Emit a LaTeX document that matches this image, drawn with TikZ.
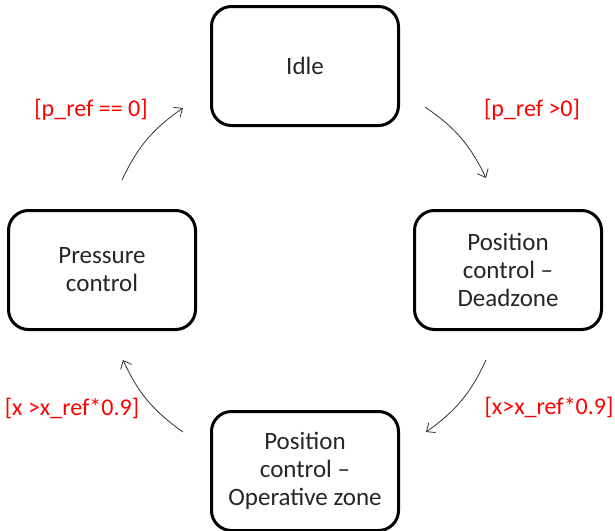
\documentclass[tikz,border=0pt]{standalone}
\usepackage{fontspec}
\setmainfont{Carlito}
\usetikzlibrary{arrows.meta}
\tikzset{
  statebox/.style = {draw,line width=3pt,rounded corners=20pt,minimum width=187pt,
                     minimum height=119pt,align=center,text=black!85,
                     font=\fontsize{25}{28}\selectfont},
  guard/.style    = {text=red,font=\fontsize{24}{27}\selectfont},
  transarr/.style = {-{Straight Barb[length=7pt,width=12pt]},black!80,line width=0.8pt,bend left=15}
}

\begin{document}
\begin{tikzpicture}[x=1pt,y=-1pt]
  \useasboundingbox (0,0) rectangle (615,530);
  % states
  \node[statebox] (idle) at (305,66) {Idle};
  \node[statebox] (dead) at (508,270) {Position\\control --\\Deadzone};
  \node[statebox] (oper) at (305,471) {Position\\control --\\Operative zone};
  \node[statebox] (pres) at (102,270) {Pressure\\control};
  % arrow ends
  \coordinate (idleout) at (425,107);
  \coordinate (deadin)  at (486,178);
  \coordinate (deadout) at (486,360);
  \coordinate (operin)  at (426,432);
  \coordinate (operout) at (183,432);
  \coordinate (presin)  at (123,360);
  \coordinate (presout) at (122,180);
  \coordinate (idlein)  at (183,108);
  \draw[transarr] (idleout) to (deadin);
  \draw[transarr] (deadout) to (operin);
  \draw[transarr] (operout) to (presin);
  \draw[transarr] (presout) to (idlein);
  % guards
  \node[guard] (g1) at (532,110) {[p\_ref >0]};
  \node[guard] (g2) at (549,407) {[x>x\_ref*0.9]};
  \node[guard] (g3) at (72,408)  {[x >x\_ref*0.9]};
  \node[guard] (g4) at (91,110)  {[p\_ref == 0]};
\end{tikzpicture}
\end{document}
